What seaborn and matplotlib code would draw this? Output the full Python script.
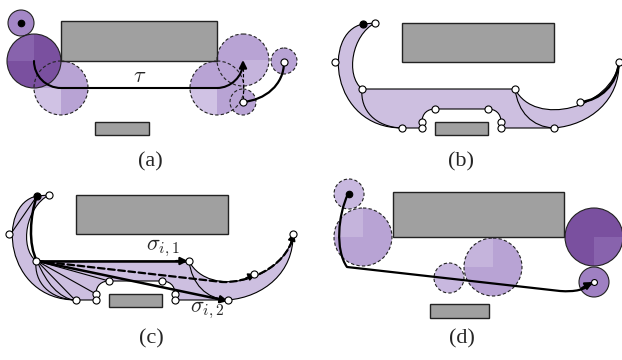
import matplotlib
matplotlib.use("Agg")
import matplotlib.pyplot as plt
import seaborn as sns
from matplotlib.path import Path
from matplotlib.patches import PathPatch, Circle, Wedge, Rectangle

# ---- geometry (pixel coords of the 622x360 canvas, y down) ----
# obstacles: (x, y, w, h)
rects_a = [(61, 21, 156, 40), (95, 122, 54, 13)]
rects_b = [(402, 23, 152, 39), (435, 122, 53, 13)]
rects_c = [(76, 195, 152, 39), (109, 294, 53, 13)]
rects_d = [(393, 192, 171, 45), (430, 304, 59, 14)]

# circles: (cx, cy, r)
circles_a = [(61, 88, 27), (21, 23, 13), (34, 61, 27),
             (243, 60, 26), (217, 88, 27), (243, 102, 13), (284, 61, 13)]
circles_d = [(349, 194, 15), (363, 237, 29), (449, 278, 15), (493, 267, 29),
             (594, 237, 29), (594, 282, 15)]

# funnel region of panel (b); panel (c) is the same region shifted
region_start = (363, 24)
region_segs = [
    [(322, 32), (330, 128), (402, 128)],
    [(422, 128)],
    [(422, 122)],
    [(422, 113), (428, 109), (435, 109)],
    [(488, 109)],
    [(495, 109), (501, 113), (501, 122)],
    [(501, 128)],
    [(554, 128)],
    [(590, 125), (620, 100), (619, 62)],
    [(612, 108), (535, 128), (515, 89)],
    [(362, 89)],
    [(345, 75), (352, 35), (375, 23)],
]
divider_left = [(362, 89), (360, 110), (375, 127), (402, 128)]
divider_right = [(515, 89), (518, 112), (532, 127), (554, 128)]
thick_b = [(619, 62), (617, 85), (600, 100), (581, 102)]
nodes_b = [(375, 23), (335, 62), (362, 89), (515, 89), (402, 128), (422, 122),
           (422, 128), (435, 109), (488, 109), (501, 122), (501, 128),
           (554, 128), (580, 102), (619, 62)]
start_b = (363, 24)
shift_c = (-326, 172)

# panel (a) trajectory tau
tau_path = [(34, 61), (34, 76), (46, 88), (61, 88), (217, 88),
            (231, 88), (243, 76), (243, 63)]
hook_a = [(243, 102), (265, 100), (284, 85), (284, 62)]
# panel (c) extras
thick_c = [(37, 196), (30, 215), (28, 245), (37, 261)]
fan_ends_c = [(76, 301), (96, 294), (109, 281)]
sigma1 = [(37, 261), (188, 261)]
sigma2 = [(37, 261), (228, 301)]
dashed_c = [(37, 261), (222, 282), (245, 283), (285, 270), (294, 235)]
# panel (d) trajectory
traj_d = [(348, 194), (338, 215), (335, 250), (347, 267), (560, 291),
          (575, 292), (585, 290), (592, 283)]

panel_labels = ["(a)", "(b)", "(c)", "(d)"]
label_pos = [(150, 162), (461, 162), (151, 339), (462, 339)]

# ---- styles ----
GRAY = "#a0a0a0"
REGION = "#cdbfe0"
DARK, DARK_L = "#7a509f", "#8863ad"
MED, MED_L = "#b8a3d4", "#c5b4dc"
LIGHT, LIGHT_L = "#c8b8df", "#d0c2e4"
SMALLP = "#a487c6"
# face, light-quadrant colour, quadrant angles (data coords, y down), dashed
circle_style_a = [(MED, LIGHT_L, (90, 180), True), (SMALLP, None, None, False),
                  (DARK, DARK_L, (180, 270), False), (MED, MED_L, (0, 90), True),
                  (MED, LIGHT_L, (90, 180), True), (MED, None, None, True),
                  (MED, None, None, True)]
circle_style_d = [(LIGHT, None, None, True), (MED, MED_L, (180, 270), True),
                  (LIGHT, None, None, True), (MED, MED_L, (180, 270), True),
                  (DARK, DARK_L, (0, 90), False), ("#9f80c2", None, None, False)]

sns.set_style("white")
plt.rcParams["font.family"] = ["Liberation Serif", "DejaVu Serif"]
plt.rcParams["mathtext.fontset"] = "cm"

fig = plt.figure(figsize=(6.22, 3.6), dpi=100)
ax = fig.add_axes([0, 0, 1, 1])


def mv(pts, d=(0, 0)):
    return [(x + d[0], y + d[1]) for x, y in pts]


def draw_path(verts, codes, lw=0.8, ls="-", z=5, fc="none", ec="k"):
    ax.add_patch(PathPatch(Path(verts, codes), fc=fc, ec=ec, lw=lw, ls=ls,
                           zorder=z, capstyle="round", joinstyle="round"))


def cubic(pts, d=(0, 0), **kw):
    pts = mv(pts, d)
    draw_path(pts, [Path.MOVETO] + [Path.CURVE4] * 3, **kw)


def region(d, z=2):
    verts = [mv([region_start], d)[0]]
    codes = [Path.MOVETO]
    for s in region_segs:
        verts += mv(s, d)
        codes += [Path.LINETO] if len(s) == 1 else [Path.CURVE4] * 3
    verts.append(verts[0])
    codes.append(Path.CLOSEPOLY)
    draw_path(verts, codes, fc=REGION, ec="k", lw=0.8, z=z)
    cubic(divider_left, d, z=z + 1)
    cubic(divider_right, d, z=z + 1)


def rects(lst):
    for x, y, w, h in lst:
        ax.add_patch(Rectangle((x, y), w, h, fc=GRAY, ec="#222222", lw=1.0, zorder=3))


def circles(lst, styles):
    for (cx, cy, r), (fc, lc, q, dashed) in zip(lst, styles):
        ax.add_patch(Circle((cx, cy), r, fc=fc, ec="none", zorder=2))
        if lc is not None:
            ax.add_patch(Wedge((cx, cy), r, q[0], q[1], fc=lc, ec="none", zorder=2))
    for (cx, cy, r), (fc, lc, q, dashed) in zip(lst, styles):
        ax.add_patch(Circle((cx, cy), r, fc="none", ec="#222222", lw=0.8,
                            ls=(0, (3, 2)) if dashed else "-", zorder=4))


def arrow_head(tip, tail, lw=1.6):
    ax.annotate("", xy=tip, xytext=tail, zorder=8,
                arrowprops=dict(arrowstyle="-|>", color="k", lw=lw,
                                mutation_scale=11, shrinkA=0, shrinkB=0))


def dots(pts, color="white", s=26):
    xs, ys = zip(*pts)
    sns.scatterplot(x=list(xs), y=list(ys), s=s, color=color, edgecolor="k",
                    linewidth=0.8, zorder=10, ax=ax, legend=False)


def seg(p, q, lw=0.8, ls="-"):
    sns.lineplot(x=[p[0], q[0]], y=[p[1], q[1]], color="k", lw=lw, ls=ls,
                 sort=False, estimator=None, ax=ax, zorder=6)


# ---------------- panel (a) ----------------
rects(rects_a)
circles(circles_a, circle_style_a)
draw_path(tau_path, [Path.MOVETO] + [Path.CURVE4] * 3 + [Path.LINETO] + [Path.CURVE4] * 3,
          lw=1.5, z=7)
arrow_head((243, 60), (243, 68))
seg((243, 68), (243, 100), ls=(0, (3, 2)))
cubic(hook_a, lw=1.6, z=7)
dots([circles_a[1][:2]], color="black", s=22)
dots([hook_a[0], hook_a[-1]])
ax.text(140, 78, r"$\tau$", fontsize=16, ha="center", va="center", zorder=9)

# ---------------- panel (b) ----------------
rects(rects_b)
region((0, 0))
cubic(thick_b, lw=1.8, z=7)
dots(nodes_b)
dots([start_b], color="black")

# ---------------- panel (c) ----------------
rects(rects_c)
region(shift_c)
fan_start = sigma1[0]
seg((37, 196), (10, 235))
for e in fan_ends_c:
    seg(fan_start, e)
cubic([(37, 261), (47, 284), (58, 297), (76, 301)])
cubic(thick_c, lw=1.8, z=7)
seg(sigma1[0], sigma1[1], lw=1.8)
arrow_head(sigma1[1], (176, 261))
seg(sigma2[0], sigma2[1], lw=1.8)
arrow_head(sigma2[1], (216, 298.5))
draw_path(dashed_c, [Path.MOVETO, Path.LINETO] + [Path.CURVE4] * 3,
          lw=1.6, ls=(0, (3, 1.6)), z=7)
arrow_head((256, 274), (246, 278), lw=1.2)
arrow_head((294, 233), (291, 243), lw=1.2)
dots(mv(nodes_b, shift_c))
dots([mv([start_b], shift_c)[0]], color="black")
ax.text(163, 248, r"$\sigma_{i,1}$", fontsize=16, ha="center", va="center", zorder=9)
ax.text(207, 310, r"$\sigma_{i,2}$", fontsize=16, ha="center", va="center", zorder=9)

# ---------------- panel (d) ----------------
rects(rects_d)
circles(circles_d, circle_style_d)
draw_path(traj_d, [Path.MOVETO] + [Path.CURVE4] * 3 + [Path.LINETO] + [Path.CURVE4] * 3,
          lw=1.6, z=7)
arrow_head((593, 282), (582, 288))
dots([circles_d[0][:2]], color="black", s=22)
dots([circles_d[-1][:2]], s=18)

for t, (x, y) in zip(panel_labels, label_pos):
    ax.text(x, y, t, fontsize=16, ha="center", va="center")

ax.set_xlim(0, 622)
ax.set_ylim(360, 0)
ax.axis("off")
fig.savefig("out.png", dpi=100)
